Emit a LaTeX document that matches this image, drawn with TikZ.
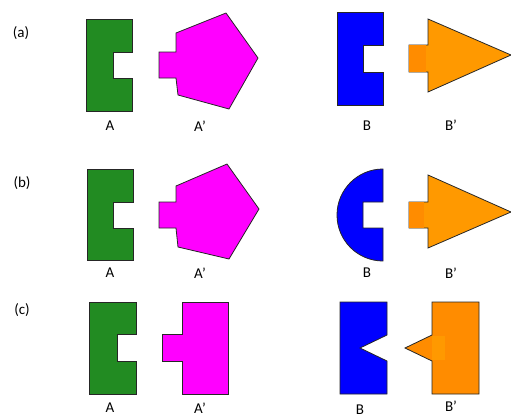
\documentclass[tikz,border=0pt]{standalone}
\usepackage{fontspec}
\setmainfont{Carlito}
\usepackage{tikz}
\usetikzlibrary{positioning}
\definecolor{pieceA}{RGB}{34,139,34}
\definecolor{pieceAp}{RGB}{255,0,255}
\definecolor{pieceB}{RGB}{0,0,255}
\definecolor{pieceBp}{RGB}{255,153,0}
\definecolor{tabBp}{RGB}{255,140,0}

\begin{document}
\begin{tikzpicture}[x=1pt,y=-1pt,
    piece/.style={draw=black!85,line width=0.8pt,line join=miter},
    lbl/.style={font=\fontsize{15}{18}\selectfont,inner sep=0pt}]
  \useasboundingbox (0,0) rectangle (511,418);

  % (a)
  \node[lbl] (rowa) at (21,33) {(a)};
  \draw[piece,fill=pieceA] (86,19) -- (132,19) -- (132,52) -- (113,52) -- (113,78)
    -- (132,78) -- (132,111) -- (86,111) -- cycle;
  \draw[piece,fill=pieceAp] (159,52) -- (176,52) -- (176,33) -- (226,13) -- (258,58)
    -- (229,109) -- (178,95) -- (176,78) -- (159,78) -- cycle;
  \draw[piece,fill=pieceB] (337,12) -- (383,12) -- (383,45) -- (363,45) -- (363,72)
    -- (383,72) -- (383,105) -- (337,105) -- cycle;
  \draw[piece,fill=pieceBp] (409,45) -- (428,45) -- (428,19) -- (511,55) -- (428,92)
    -- (428,72) -- (409,72) -- cycle;
  \fill[tabBp] (409.4,45.4) rectangle (426,71.6);
  \node[lbl] (labAa) at (110,126) {A};
  \node[lbl] (labApa) at (200,126) {A’};
  \node[lbl] (labBa) at (367,126) {B};
  \node[lbl] (labBpa) at (451,125) {B’};

  % (b)
  \node[lbl] (rowb) at (22,183) {(b)};
  \draw[piece,fill=pieceA] (87,169) -- (133,169) -- (133,202) -- (113,202) -- (113,228)
    -- (133,228) -- (133,260) -- (87,260) -- cycle;
  \draw[piece,fill=pieceAp] (159,202) -- (176,202) -- (176,186) -- (227,164) -- (259,209)
    -- (229,259) -- (178,247) -- (176,228) -- (159,228) -- cycle;
  \draw[piece,fill=pieceB] (383,169) arc[start angle=-90,end angle=-270,radius=46]
    -- (383,228) -- (363,228) -- (363,202) -- (383,202) -- cycle;
  \draw[piece,fill=pieceBp] (409,202) -- (428,202) -- (428,175) -- (511,212) -- (428,248)
    -- (428,228) -- (409,228) -- cycle;
  \fill[tabBp] (409.4,202.4) rectangle (424,227.6);
  \node[lbl] (labAb) at (110,273) {A};
  \node[lbl] (labApb) at (200,273) {A’};
  \node[lbl] (labBb) at (367,273) {B};
  \node[lbl] (labBpb) at (451,273) {B’};

  % (c)
  \node[lbl] (rowc) at (22,310) {(c)};
  \draw[piece,fill=pieceA] (89,302) -- (136,302) -- (136,334) -- (117,334) -- (117,361)
    -- (136,361) -- (136,394) -- (89,394) -- cycle;
  \draw[piece,fill=pieceAp] (162,334) -- (182,334) -- (182,302) -- (228,302) -- (228,394)
    -- (182,394) -- (182,361) -- (162,361) -- cycle;
  \draw[piece,fill=pieceB] (340,302) -- (387,302) -- (387,335) -- (360,348) -- (387,361)
    -- (387,394) -- (340,394) -- cycle;
  \draw[piece,fill=tabBp] (432,302) -- (479,302) -- (479,394) -- (432,394) -- (432,361)
    -- (405,348) -- (432,335) -- cycle;
  \fill[pieceBp] (432.4,336) -- (445,336) -- (445,360) -- (432.4,360) -- cycle;
  \node[lbl] (labAc) at (110,408) {A};
  \node[lbl] (labApc) at (200,408) {A’};
  \node[lbl] (labBc) at (360,410) {B};
  \node[lbl] (labBpc) at (451,406) {B’};
\end{tikzpicture}
\end{document}
